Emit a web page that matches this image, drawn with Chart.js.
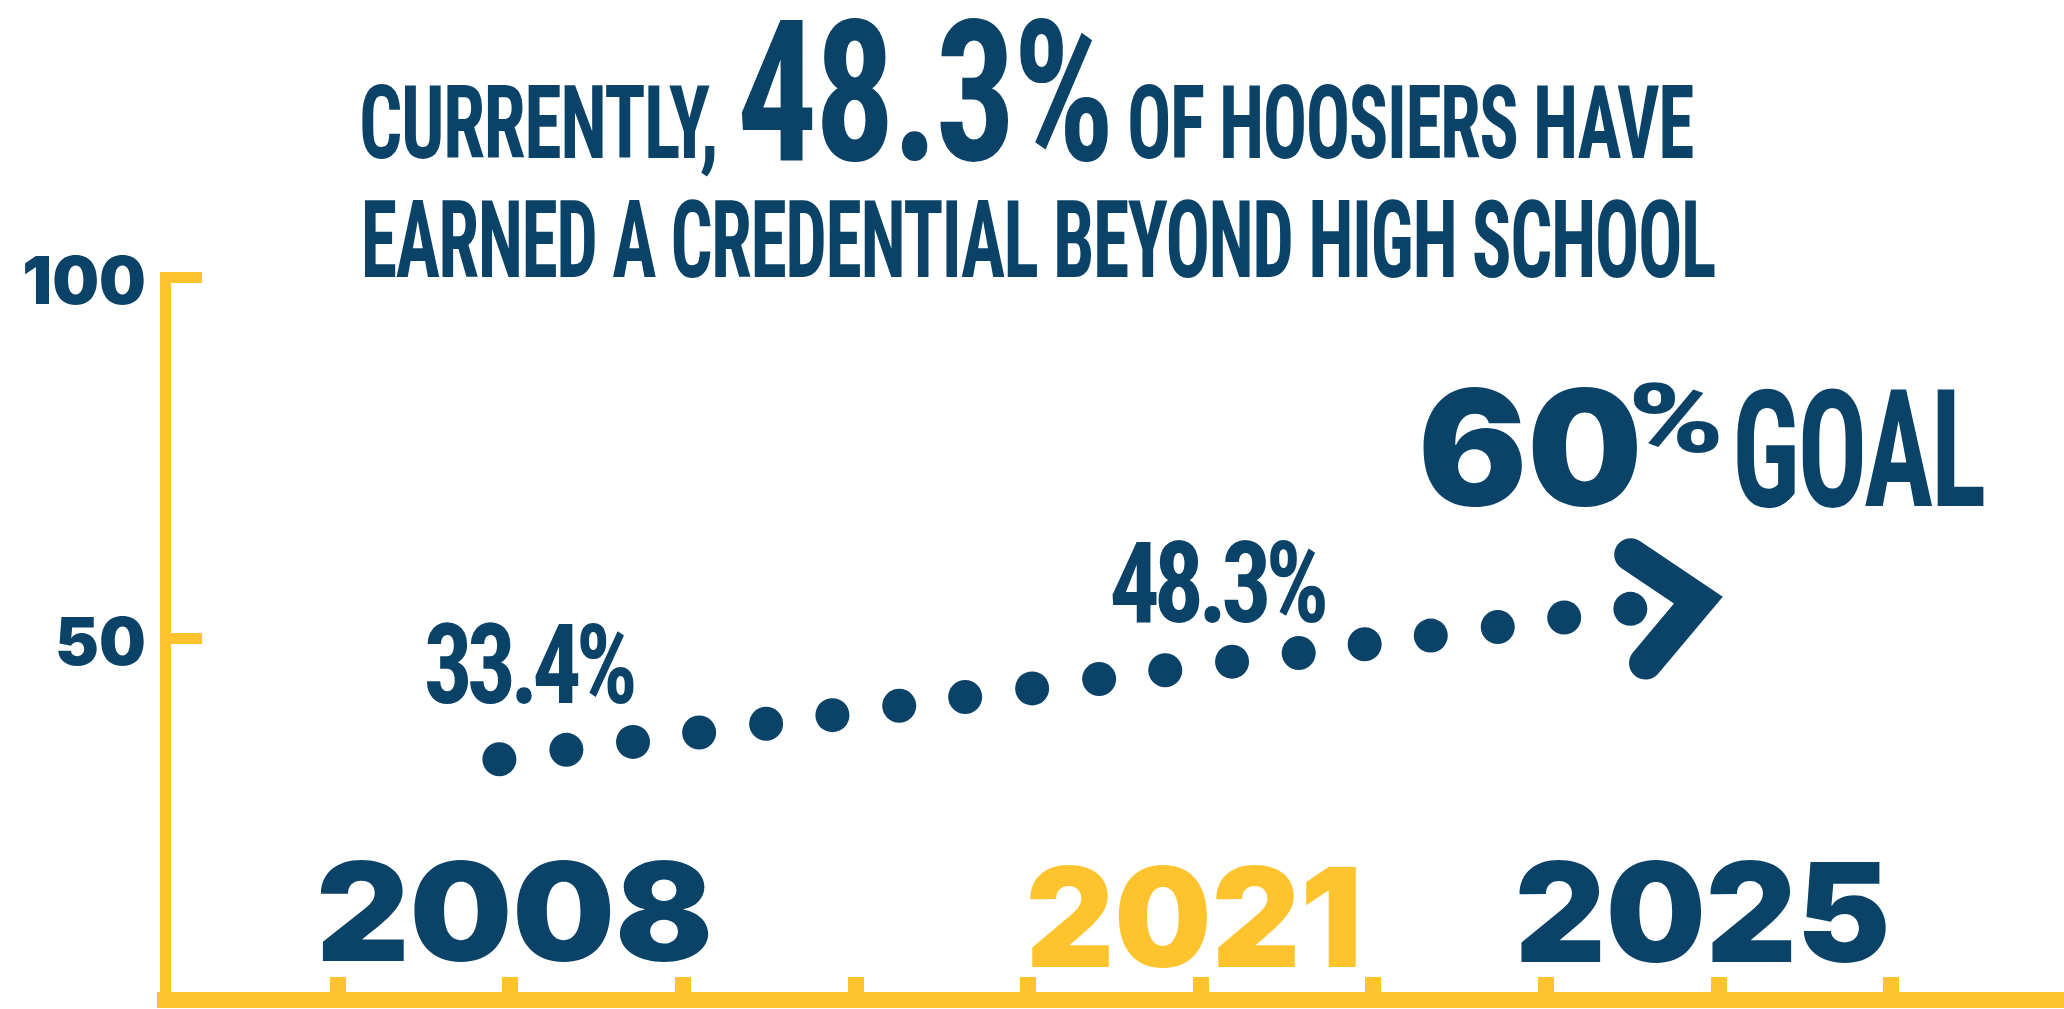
<!DOCTYPE html>
<html>
<head>
<meta charset="utf-8">
<title>Hoosiers credential attainment</title>
<script src="https://cdn.jsdelivr.net/npm/chart.js@4.4.0/dist/chart.umd.min.js"></script>
<style>
    html, body { margin: 0; padding: 0; background: #fff; overflow: hidden; }
    #wrap { width: 2064px; height: 1009px; position: relative; }
    .warm { position: absolute; left: -9999px; top: 0; }
</style>
</head>
<body>
<div id="wrap"><canvas id="myChart"></canvas></div>
<div class="warm" aria-hidden="true">
    <span style="font: 700 20px 'Roboto Condensed'">Aa</span>
    <span style="font: 900 20px 'Inter'">Aa</span>
</div>
<script>
// dotted path (x = axis step, y = percent)
const dotX = [1.937, 2.325, 2.711, 3.094, 3.482, 3.866, 4.253, 4.635, 5.023, 5.411, 5.794, 6.181, 6.567, 6.949, 7.332, 7.720, 8.105, 8.488]
const dotY = [33.3, 34.6, 35.7, 37.0, 38.2, 39.4, 40.7, 41.9, 43.1, 44.4, 45.6, 46.8, 48.0, 49.2, 50.4, 51.6, 52.9, 54.1]

// chevron at the end of the path
const arrowX = [8.490, 8.882, 8.576]
const arrowY = [61.6, 55.3, 46.6]

const yTicks = [50, 100]
const xTicks = [1, 2, 3, 4, 5, 6, 7, 8, 9, 10]

const yearLabels = ['2008', '2021', '2025']
const yearTicks = [2, 6, 9]

const valueLabels = ['33.4%', '48.3%']
const valueDots = [0, 11]

const titleParts = ['CURRENTLY,', '48.3%', 'OF HOOSIERS HAVE']
const subtitle = 'EARNED A CREDENTIAL BEYOND HIGH SCHOOL'
const goalParts = ['60', '%', 'GOAL']

const navy = '#0b4368'
const yellow = '#ffc32e'
const condensed = 'Roboto Condensed'
const geometric = 'Inter'

function fitText(ctx, text, family, weight, left, right, top, baseline, color, track) {
    ctx.save()
    ctx.textAlign = 'left'
    ctx.textBaseline = 'alphabetic'
    ctx.font = weight + ' 100px "' + family + '"'
    let m = ctx.measureText(text)
    const size = 100 * (baseline - top) / m.actualBoundingBoxAscent
    ctx.font = weight + ' ' + size.toFixed(2) + 'px "' + family + '"'
    if (track) ctx.letterSpacing = (track * size).toFixed(2) + 'px'
    m = ctx.measureText(text)
    const inkW = m.actualBoundingBoxLeft + m.actualBoundingBoxRight
    ctx.translate(left, baseline)
    ctx.scale((right - left) / inkW, 1)
    ctx.fillStyle = color
    ctx.fillText(text, m.actualBoundingBoxLeft, 0)
    ctx.restore()
}

const textPlugin = {
    id: 'infoText',
    afterDraw(chart) {
        const ctx = chart.ctx
        const x = chart.scales.x

        // headline
        fitText(ctx, titleParts[0], condensed, 700, 362, 715, 85, 158, navy, -0.02)
        fitText(ctx, titleParts[1], condensed, 700, 742, 1108, 17, 160, navy, -0.02)
        fitText(ctx, titleParts[2], condensed, 700, 1130, 1693, 85, 158, navy, -0.02)
        fitText(ctx, subtitle, condensed, 700, 365, 1715, 200, 277, navy, -0.02)

        // value labels above their dots
        const boxes = [[-73, 134, -137, -56], [-120, 93, -122, -40]]
        const pts = chart.getDatasetMeta(0).data
        valueLabels.forEach((txt, i) => {
            const p = pts[valueDots[i]]
            const b = boxes[i]
            fitText(ctx, txt, condensed, 700, p.x + b[0], p.x + b[1], p.y + b[2], p.y + b[3], navy, -0.06)
        })

        // year labels sitting on the axis ticks
        const widths = [388, 326, 368]
        const nudge = [4, -8, -16]
        const tops = [860, 865, 860]
        const bases = [961, 967, 962]
        const colors = [navy, yellow, navy]
        yearLabels.forEach((txt, i) => {
            const cx = x.getPixelForValue(yearTicks[i]) + nudge[i]
            fitText(ctx, txt, geometric, 900, cx - widths[i] / 2, cx + widths[i] / 2, tops[i], bases[i], colors[i])
        })

        // goal
        fitText(ctx, goalParts[0], geometric, 900, 1423, 1637, 387, 505, navy)
        fitText(ctx, goalParts[1], condensed, 700, 1633, 1720, 382, 452, navy)
        fitText(ctx, goalParts[2], condensed, 700, 1737, 1984, 388, 506, navy, -0.02)
    }
}

const ctx = document.getElementById('myChart')

const chart = new Chart(ctx, {
    type: 'line',
    data: {
        datasets: [{
            label: 'Credential attainment',
            data: dotX.map((v, i) => ({ x: v, y: dotY[i] })),
            showLine: false,
            pointRadius: 17,
            pointHoverRadius: 17,
            pointBackgroundColor: navy,
            pointBorderWidth: 0,
            clip: false
        }, {
            label: 'Goal',
            data: arrowX.map((v, i) => ({ x: v, y: arrowY[i] })),
            borderColor: navy,
            borderWidth: 33,
            borderCapStyle: 'round',
            borderJoinStyle: 'miter',
            pointRadius: 0,
            pointHoverRadius: 0,
            tension: 0,
            fill: false,
            clip: false
        }]
    },
    options: {
        responsive: true,
        maintainAspectRatio: false,
        animation: false,
        events: [],
        layout: { autoPadding: false, padding: { top: 277, left: 0, right: 0, bottom: 9 } },
        plugins: {
            legend: { display: false },
            tooltip: { enabled: false }
        },
        scales: {
            x: {
                type: 'linear',
                min: 0,
                max: 11,
                afterBuildTicks: s => { s.ticks = xTicks.map(v => ({ value: v })) },
                afterFit: s => { s.height = 0; s.paddingLeft = 0; s.paddingRight = 0 },
                ticks: { display: false },
                grid: { drawOnChartArea: false, drawTicks: true, tickLength: -23, lineWidth: 16, color: yellow },
                border: { display: true, width: 16, color: yellow }
            },
            y: {
                min: 0,
                max: 100,
                afterBuildTicks: s => { s.ticks = yTicks.map(v => ({ value: v })) },
                afterFit: s => { s.width = 165; s.paddingTop = 0; s.paddingBottom = 0 },
                ticks: {
                    color: navy,
                    padding: 56,
                    labelOffset: 7,
                    font: { family: geometric, weight: 900, size: 66 }
                },
                grid: { drawOnChartArea: false, drawTicks: true, tickLength: -37, lineWidth: 11, color: yellow },
                border: { display: true, width: 11, color: yellow }
            }
        }
    },
    plugins: [textPlugin]
})

// redraw once the installed faces are ready for the canvas
Promise.all([
    document.fonts.load('700 100px "Roboto Condensed"'),
    document.fonts.load('900 100px "Inter"')
]).then(() => document.fonts.ready).then(() => chart.update())
setTimeout(() => chart.update(), 300)
</script>
</body>
</html>
